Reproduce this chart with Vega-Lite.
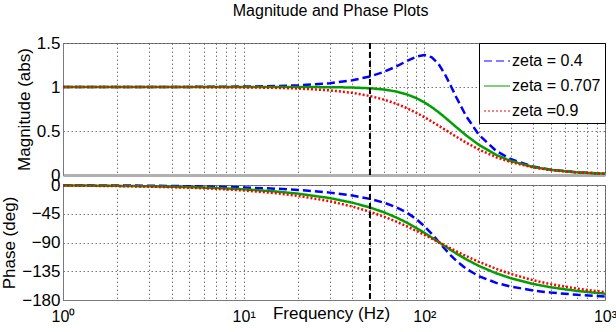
{
  "$schema": "https://vega.github.io/schema/vega-lite/v6.json",
  "padding": {"left": 0, "top": 2, "right": 0, "bottom": 0},
  "background": "white",
  "bounds": "flush",
  "spacing": 10,
  "title": {"text": "Magnitude and Phase Plots", "fontSize": 16, "fontWeight": "normal", "font": "Liberation Sans", "color": "black", "anchor": "middle", "offset": 15, "dx": 22},
  "datasets": {
    "bode": [
      {"f": 1, "zeta": "zeta = 0.4", "mag": 1.0000, "phase": -0.38},
      {"f": 2, "zeta": "zeta = 0.4", "mag": 1.0002, "phase": -0.76},
      {"f": 3, "zeta": "zeta = 0.4", "mag": 1.0004, "phase": -1.14},
      {"f": 5, "zeta": "zeta = 0.4", "mag": 1.0012, "phase": -1.90},
      {"f": 7, "zeta": "zeta = 0.4", "mag": 1.0023, "phase": -2.66},
      {"f": 10, "zeta": "zeta = 0.4", "mag": 1.0047, "phase": -3.81},
      {"f": 15, "zeta": "zeta = 0.4", "mag": 1.0105, "phase": -5.75},
      {"f": 20, "zeta": "zeta = 0.4", "mag": 1.0187, "phase": -7.74},
      {"f": 30, "zeta": "zeta = 0.4", "mag": 1.0425, "phase": -11.93},
      {"f": 40, "zeta": "zeta = 0.4", "mag": 1.0763, "phase": -16.54},
      {"f": 50, "zeta": "zeta = 0.4", "mag": 1.1202, "phase": -21.73},
      {"f": 60, "zeta": "zeta = 0.4", "mag": 1.1736, "phase": -27.75},
      {"f": 70, "zeta": "zeta = 0.4", "mag": 1.2339, "phase": -34.82},
      {"f": 80, "zeta": "zeta = 0.4", "mag": 1.2947, "phase": -43.22},
      {"f": 90, "zeta": "zeta = 0.4", "mag": 1.3439, "phase": -53.10},
      {"f": 100, "zeta": "zeta = 0.4", "mag": 1.3639, "phase": -64.39},
      {"f": 110, "zeta": "zeta = 0.4", "mag": 1.3375, "phase": -76.58},
      {"f": 120, "zeta": "zeta = 0.4", "mag": 1.2601, "phase": -88.81},
      {"f": 130, "zeta": "zeta = 0.4", "mag": 1.1452, "phase": -100.18},
      {"f": 140, "zeta": "zeta = 0.4", "mag": 1.0146, "phase": -110.10},
      {"f": 150, "zeta": "zeta = 0.4", "mag": 0.8868, "phase": -118.43},
      {"f": 170, "zeta": "zeta = 0.4", "mag": 0.6724, "phase": -130.90},
      {"f": 200, "zeta": "zeta = 0.4", "mag": 0.4589, "phase": -142.64},
      {"f": 250, "zeta": "zeta = 0.4", "mag": 0.2730, "phase": -153.17},
      {"f": 300, "zeta": "zeta = 0.4", "mag": 0.1813, "phase": -158.93},
      {"f": 400, "zeta": "zeta = 0.4", "mag": 0.0973, "phase": -165.08},
      {"f": 500, "zeta": "zeta = 0.4", "mag": 0.0609, "phase": -168.38},
      {"f": 700, "zeta": "zeta = 0.4", "mag": 0.0305, "phase": -171.89},
      {"f": 1000, "zeta": "zeta = 0.4", "mag": 0.0148, "phase": -174.39},
      {"f": 1, "zeta": "zeta = 0.707", "mag": 1.0000, "phase": -0.67},
      {"f": 2, "zeta": "zeta = 0.707", "mag": 1.0000, "phase": -1.34},
      {"f": 3, "zeta": "zeta = 0.707", "mag": 1.0000, "phase": -2.01},
      {"f": 5, "zeta": "zeta = 0.707", "mag": 1.0000, "phase": -3.35},
      {"f": 7, "zeta": "zeta = 0.707", "mag": 1.0000, "phase": -4.69},
      {"f": 10, "zeta": "zeta = 0.707", "mag": 1.0000, "phase": -6.71},
      {"f": 15, "zeta": "zeta = 0.707", "mag": 0.9999, "phase": -10.09},
      {"f": 20, "zeta": "zeta = 0.707", "mag": 0.9996, "phase": -13.51},
      {"f": 30, "zeta": "zeta = 0.707", "mag": 0.9981, "phase": -20.48},
      {"f": 40, "zeta": "zeta = 0.707", "mag": 0.9941, "phase": -27.69},
      {"f": 50, "zeta": "zeta = 0.707", "mag": 0.9857, "phase": -35.17},
      {"f": 60, "zeta": "zeta = 0.707", "mag": 0.9711, "phase": -42.92},
      {"f": 70, "zeta": "zeta = 0.707", "mag": 0.9483, "phase": -50.88},
      {"f": 80, "zeta": "zeta = 0.707", "mag": 0.9163, "phase": -58.95},
      {"f": 90, "zeta": "zeta = 0.707", "mag": 0.8750, "phase": -66.99},
      {"f": 100, "zeta": "zeta = 0.707", "mag": 0.8258, "phase": -74.82},
      {"f": 110, "zeta": "zeta = 0.707", "mag": 0.7708, "phase": -82.31},
      {"f": 120, "zeta": "zeta = 0.707", "mag": 0.7130, "phase": -89.33},
      {"f": 130, "zeta": "zeta = 0.707", "mag": 0.6548, "phase": -95.80},
      {"f": 140, "zeta": "zeta = 0.707", "mag": 0.5985, "phase": -101.70},
      {"f": 150, "zeta": "zeta = 0.707", "mag": 0.5454, "phase": -107.03},
      {"f": 170, "zeta": "zeta = 0.707", "mag": 0.4519, "phase": -116.12},
      {"f": 200, "zeta": "zeta = 0.707", "mag": 0.3437, "phase": -126.54},
      {"f": 250, "zeta": "zeta = 0.707", "mag": 0.2281, "phase": -138.21},
      {"f": 300, "zeta": "zeta = 0.707", "mag": 0.1606, "phase": -145.74},
      {"f": 400, "zeta": "zeta = 0.707", "mag": 0.0911, "phase": -154.79},
      {"f": 500, "zeta": "zeta = 0.707", "mag": 0.0585, "phase": -160.03},
      {"f": 700, "zeta": "zeta = 0.707", "mag": 0.0299, "phase": -165.86},
      {"f": 1000, "zeta": "zeta = 0.707", "mag": 0.0146, "phase": -170.15},
      {"f": 1, "zeta": "zeta =0.9", "mag": 1.0000, "phase": -0.85},
      {"f": 2, "zeta": "zeta =0.9", "mag": 0.9998, "phase": -1.70},
      {"f": 3, "zeta": "zeta =0.9", "mag": 0.9996, "phase": -2.56},
      {"f": 5, "zeta": "zeta =0.9", "mag": 0.9989, "phase": -4.26},
      {"f": 7, "zeta": "zeta =0.9", "mag": 0.9979, "phase": -5.96},
      {"f": 10, "zeta": "zeta =0.9", "mag": 0.9958, "phase": -8.52},
      {"f": 15, "zeta": "zeta =0.9", "mag": 0.9905, "phase": -12.77},
      {"f": 20, "zeta": "zeta =0.9", "mag": 0.9831, "phase": -17.01},
      {"f": 30, "zeta": "zeta =0.9", "mag": 0.9623, "phase": -25.43},
      {"f": 40, "zeta": "zeta =0.9", "mag": 0.9335, "phase": -33.75},
      {"f": 50, "zeta": "zeta =0.9", "mag": 0.8977, "phase": -41.89},
      {"f": 60, "zeta": "zeta =0.9", "mag": 0.8558, "phase": -49.81},
      {"f": 70, "zeta": "zeta =0.9", "mag": 0.8093, "phase": -57.42},
      {"f": 80, "zeta": "zeta =0.9", "mag": 0.7596, "phase": -64.69},
      {"f": 90, "zeta": "zeta =0.9", "mag": 0.7085, "phase": -71.55},
      {"f": 100, "zeta": "zeta =0.9", "mag": 0.6575, "phase": -77.97},
      {"f": 110, "zeta": "zeta =0.9", "mag": 0.6077, "phase": -83.95},
      {"f": 120, "zeta": "zeta =0.9", "mag": 0.5602, "phase": -89.47},
      {"f": 130, "zeta": "zeta =0.9", "mag": 0.5155, "phase": -94.56},
      {"f": 140, "zeta": "zeta =0.9", "mag": 0.4739, "phase": -99.24},
      {"f": 150, "zeta": "zeta =0.9", "mag": 0.4357, "phase": -103.53},
      {"f": 170, "zeta": "zeta =0.9", "mag": 0.3690, "phase": -111.06},
      {"f": 200, "zeta": "zeta =0.9", "mag": 0.2905, "phase": -120.21},
      {"f": 250, "zeta": "zeta =0.9", "mag": 0.2020, "phase": -131.31},
      {"f": 300, "zeta": "zeta =0.9", "mag": 0.1468, "phase": -139.07},
      {"f": 400, "zeta": "zeta =0.9", "mag": 0.0864, "phase": -149.06},
      {"f": 500, "zeta": "zeta =0.9", "mag": 0.0565, "phase": -155.17},
      {"f": 700, "zeta": "zeta =0.9", "mag": 0.0293, "phase": -162.22},
      {"f": 1000, "zeta": "zeta =0.9", "mag": 0.0145, "phase": -167.54}
    ],
    "marker": [{"f": 50}]
  },
  "resolve": {"scale": {"color": "independent", "strokeDash": "independent"}},
  "vconcat": [
    {
      "width": 542,
      "height": 132,
      "layer": [
        {
          "data": {"name": "bode"},
          "mark": {"type": "line", "strokeWidth": 2.5},
          "encoding": {
            "x": {"field": "f", "type": "quantitative", "scale": {"type": "log", "domain": [1, 1000], "nice": false},
              "axis": {"values": [1,2,3,4,5,6,7,8,9,10,20,30,40,50,60,70,80,90,100,200,300,400,500,600,700,800,900,1000], "labels": false, "ticks": false, "title": null, "grid": true, "domain": true, "domainColor": "#b0b0b0", "domainWidth": 3}},
            "y": {"field": "mag", "type": "quantitative", "scale": {"domain": [0, 1.5], "nice": false},
              "axis": {"values": [0, 0.5, 1, 1.5], "format": "~g", "title": "Magnitude (abs)"}},
            "color": {"field": "zeta", "type": "nominal", "sort": ["zeta = 0.4", "zeta = 0.707", "zeta =0.9"],
              "scale": {"domain": ["zeta = 0.4", "zeta = 0.707", "zeta =0.9"], "range": ["#0000ff", "#00a000", "#ff0000"]},
              "legend": {"orient": "top-right", "offset": 0, "title": null, "fillColor": "white", "strokeColor": "#000000", "padding": 4, "labelFontSize": 16, "labelFont": "Liberation Sans", "labelColor": "black", "symbolType": "stroke", "symbolSize": 676, "symbolStrokeWidth": 1.2, "rowPadding": 3, "labelOffset": 1, "cornerRadius": 0}},
            "strokeDash": {"field": "zeta", "type": "nominal", "sort": ["zeta = 0.4", "zeta = 0.707", "zeta =0.9"],
              "scale": {"domain": ["zeta = 0.4", "zeta = 0.707", "zeta =0.9"], "range": [[8, 4], [1, 0], [2, 2]]},
              "legend": {"orient": "top-right", "offset": 0, "title": null, "fillColor": "white", "strokeColor": "#000000", "padding": 4, "labelFontSize": 16, "labelFont": "Liberation Sans", "labelColor": "black", "symbolType": "stroke", "symbolSize": 676, "symbolStrokeWidth": 1.2, "rowPadding": 3, "labelOffset": 1, "cornerRadius": 0}}
          }
        },
        {
          "data": {"name": "marker"},
          "mark": {"type": "rule", "color": "black", "strokeDash": [6, 3], "strokeWidth": 2},
          "encoding": {"x": {"field": "f", "type": "quantitative"}}
        }
      ]
    },
    {
      "width": 542,
      "height": 115,
      "layer": [
        {
          "data": {"name": "bode"},
          "mark": {"type": "line", "strokeWidth": 2.5},
          "encoding": {
            "x": {"field": "f", "type": "quantitative", "scale": {"type": "log", "domain": [1, 1000], "nice": false},
              "axis": {"values": [1,2,3,4,5,6,7,8,9,10,20,30,40,50,60,70,80,90,100,200,300,400,500,600,700,800,900,1000],
                "labelExpr": "datum.value == 1 ? '10⁰' : datum.value == 10 ? '10¹' : datum.value == 100 ? '10²' : datum.value == 1000 ? '10³' : ''",
                "labelOverlap": false, "labelFlush": false, "labelBound": false, "labelFontSize": 16, "labelPadding": 8,
                "ticks": false, "grid": true, "title": "Frequency  (Hz)", "titleFontSize": 17, "titleX": 268, "titleY": 18.5, "titleBaseline": "alphabetic", "titleAlign": "center", "titleAnchor": null}},
            "y": {"field": "phase", "type": "quantitative", "scale": {"domain": [-180, 0], "nice": false},
              "axis": {"values": [-180, -135, -90, -45, 0], "title": "Phase (deg)"}},
            "color": {"field": "zeta", "type": "nominal", "sort": ["zeta = 0.4", "zeta = 0.707", "zeta =0.9"],
              "scale": {"domain": ["zeta = 0.4", "zeta = 0.707", "zeta =0.9"], "range": ["#0000ff", "#00a000", "#ff0000"]}, "legend": null},
            "strokeDash": {"field": "zeta", "type": "nominal", "sort": ["zeta = 0.4", "zeta = 0.707", "zeta =0.9"],
              "scale": {"domain": ["zeta = 0.4", "zeta = 0.707", "zeta =0.9"], "range": [[8, 4], [1, 0], [2, 2]]}, "legend": null}
          }
        },
        {
          "data": {"name": "marker"},
          "mark": {"type": "rule", "color": "black", "strokeDash": [6, 3], "strokeWidth": 2},
          "encoding": {"x": {"field": "f", "type": "quantitative"}}
        }
      ]
    }
  ],
  "config": {
    "font": "Liberation Sans",
    "view": {"stroke": "#7a7a7a", "strokeWidth": 1},
    "axis": {
      "labelFont": "Liberation Sans", "titleFont": "Liberation Sans", "labelColor": "black", "titleColor": "black",
      "labelFontSize": 17, "titleFontSize": 17, "titleFontWeight": "normal",
      "gridColor": "#555555", "gridDash": [1.5, 2.5], "gridWidth": 0.8, "gridOpacity": 1,
      "domainColor": "#7a7a7a", "domainWidth": 1, "tickColor": "#7a7a7a"
    },
    "axisY": {"ticks": false, "labelPadding": 3, "titlePadding": 3, "labelFlush": false, "labelBound": false}
  }
}
